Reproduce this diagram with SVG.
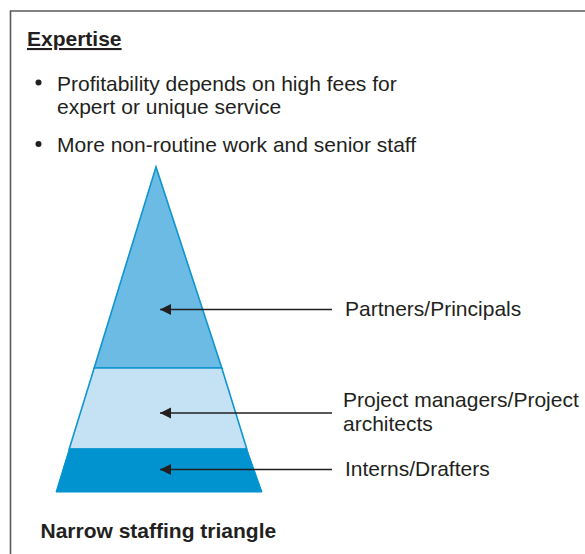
<svg xmlns="http://www.w3.org/2000/svg" width="585" height="554" viewBox="0 0 585 554">
<defs>
<marker id="ah" viewBox="0 0 12 12" refX="11" refY="6" markerWidth="12" markerHeight="12" markerUnits="userSpaceOnUse" orient="auto">
<path d="M0,0.5 L11,6 L0,11.5 Z" fill="#231f20"/>
</marker>
<style>
text{font-family:"Liberation Sans",Arial,sans-serif;fill:#231f20}
.b{font-size:21px}
.h{font-size:21px;font-weight:bold}
.lbl{font-size:21px}
.conn line{stroke:#231f20;stroke-width:1.4}
.tier{stroke:#0f95cf;stroke-width:1.6}
</style>
</defs>
<rect width="585" height="554" fill="#fff"/>
<path d="M10.5,560 V11 H590" fill="none" stroke="#5a5a5a" stroke-width="1.6"/>
<g id="title">
<text class="h" x="27" y="46" text-decoration="underline">Expertise</text>
</g>
<g id="bullets">
<circle cx="38.5" cy="82.5" r="3" fill="#231f20"/>
<text class="b" x="57" y="91">Profitability depends on high fees for</text>
<text class="b" x="57" y="114">expert or unique service</text>
<circle cx="38.5" cy="144" r="3" fill="#231f20"/>
<text class="b" x="57" y="152">More non-routine work and senior staff</text>
</g>
<g id="tier-top">
<polygon class="tier" points="156,167 94.2,368 221.8,368" fill="#6bbbe4"/>
</g>
<g id="tier-middle">
<polygon class="tier" points="94.2,368 221.8,368 246.8,449 69.2,449" fill="#c4e2f3"/>
</g>
<g id="tier-bottom">
<polygon points="69.2,449 246.8,449 262,492 56,492" fill="#0093d0" stroke="#0093d0" stroke-width="1"/>
</g>
<g class="conn" id="connectors">
<line x1="332" y1="309.5" x2="160" y2="309.5" marker-end="url(#ah)"/>
<line x1="332" y1="413" x2="160" y2="413" marker-end="url(#ah)"/>
<line x1="332" y1="469.5" x2="160" y2="469.5" marker-end="url(#ah)"/>
</g>
<g id="label-partners">
<text class="lbl" x="345" y="316">Partners/Principals</text>
</g>
<g id="label-pm">
<text class="lbl" x="343" y="407">Project managers/Project</text>
<text class="lbl" x="343" y="431">architects</text>
</g>
<g id="label-interns">
<text class="lbl" x="345" y="476">Interns/Drafters</text>
</g>
<g id="caption">
<text class="h" x="40.5" y="538">Narrow staffing triangle</text>
</g>
</svg>
